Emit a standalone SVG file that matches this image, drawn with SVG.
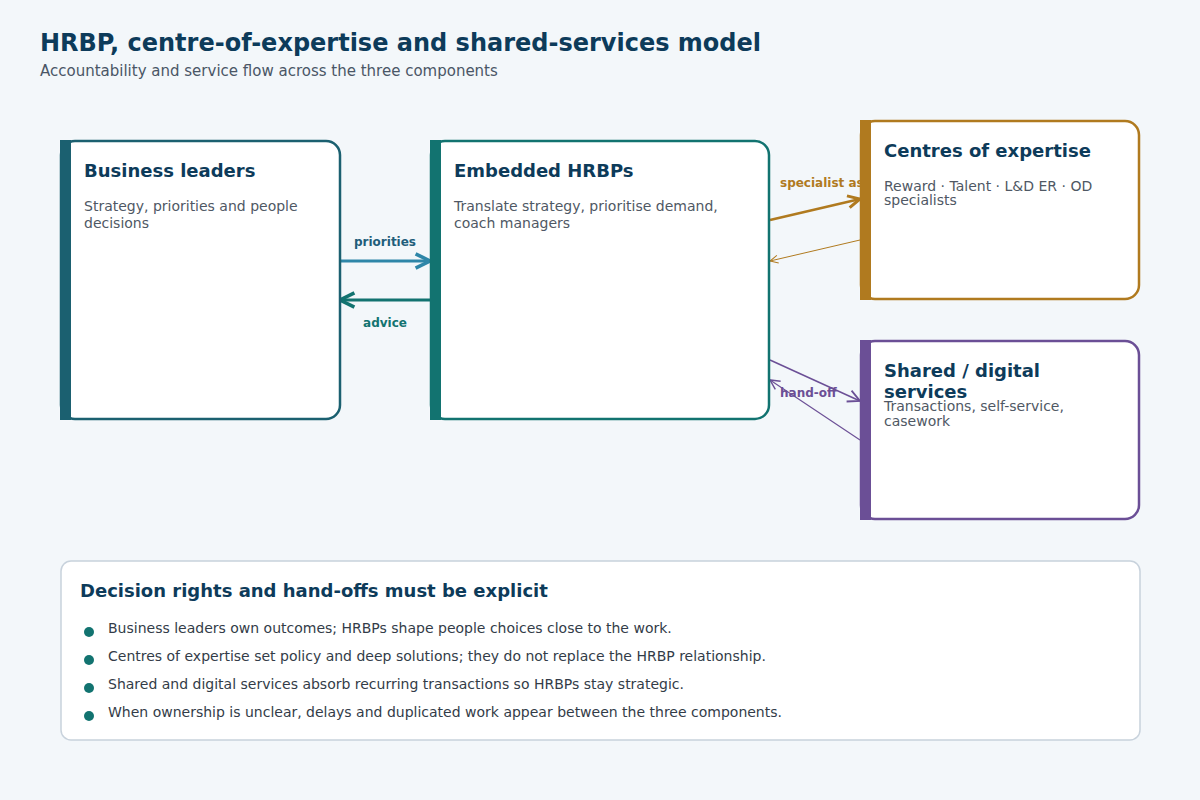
<svg xmlns="http://www.w3.org/2000/svg" width="1200" height="800" viewBox="0 0 1200 800">
<style>
text{font-family:"DejaVu Sans",sans-serif}
.t{font-size:24px;font-weight:bold;fill:#0d3b5a}
.st{font-size:15px;fill:#4a5666}
.h{font-size:18px;font-weight:bold;fill:#0d3b5a}
.d{font-size:14px;fill:#4f5864}
.l{font-size:12px;font-weight:bold}
.b{font-size:14px;fill:#333c48}
</style>
<defs>
<marker id="aB" viewBox="0 0 10 10" refX="9" refY="5" markerWidth="6" markerHeight="6" orient="auto"><path d="M1,1 L9,5 L1,9" fill="none" stroke="#2e86a8" stroke-width="2"/></marker>
<marker id="aT" viewBox="0 0 10 10" refX="9" refY="5" markerWidth="6" markerHeight="6" orient="auto"><path d="M1,1 L9,5 L1,9" fill="none" stroke="#127370" stroke-width="2"/></marker>
<marker id="aG" viewBox="0 0 10 10" refX="9" refY="5" markerWidth="6" markerHeight="6" orient="auto"><path d="M1,1 L9,5 L1,9" fill="none" stroke="#b07a1f" stroke-width="2"/></marker>
<marker id="aG2" viewBox="0 0 10 10" refX="9" refY="5" markerWidth="10" markerHeight="10" orient="auto"><path d="M1,1 L9,5 L1,9" fill="none" stroke="#b07a1f" stroke-width="1"/></marker>
<marker id="aP" viewBox="0 0 10 10" refX="9" refY="5" markerWidth="10" markerHeight="10" orient="auto"><path d="M1,1 L9,5 L1,9" fill="none" stroke="#6b4f96" stroke-width="1.2"/></marker>
</defs>
<rect width="1200" height="800" fill="#f3f7fa"/>
<text x="40" y="51" class="t">HRBP, centre-of-expertise and shared-services model</text>
<text x="40" y="76" class="st">Accountability and service flow across the three components</text>
<g id="connectors">
<line x1="340" y1="261" x2="430" y2="261" stroke="#2e86a8" stroke-width="3" marker-end="url(#aB)"/>
<text x="385" y="246" text-anchor="middle" class="l" fill="#1f5e7a">priorities</text>
<line x1="430" y1="300" x2="340" y2="300" stroke="#127370" stroke-width="3" marker-end="url(#aT)"/>
<text x="385" y="327" text-anchor="middle" class="l" fill="#127370">advice</text>
<line x1="770" y1="220" x2="860" y2="199" stroke="#b07a1f" stroke-width="2.5" marker-end="url(#aG)"/>
<line x1="860" y1="240" x2="770" y2="261" stroke="#b07a1f" stroke-width="1" marker-end="url(#aG2)"/>
<text x="780" y="187" class="l" fill="#b07a1f">specialist asks</text>
<line x1="770" y1="360" x2="860" y2="401" stroke="#6b4f96" stroke-width="1.5" marker-end="url(#aP)"/>
<line x1="860" y1="440" x2="770" y2="380" stroke="#6b4f96" stroke-width="1.2" marker-end="url(#aP)"/>
<text x="780" y="397" class="l" fill="#6b4f96">hand-off</text>
</g>
<g id="business-leaders">
<rect x="61" y="141" width="279" height="278" rx="14" fill="#fff" stroke="#1b6070" stroke-width="2.5"/>
<rect x="60" y="140" width="11" height="280" fill="#1b6070"/>
<text x="84" y="177" class="h">Business leaders</text>
<text x="84" y="211" class="d">Strategy, priorities and people</text>
<text x="84" y="228" class="d">decisions</text>
</g>
<g id="embedded-hrbps">
<rect x="431" y="141" width="338" height="278" rx="14" fill="#fff" stroke="#127370" stroke-width="2.5"/>
<rect x="430" y="140" width="11" height="280" fill="#127370"/>
<text x="454" y="177" class="h">Embedded HRBPs</text>
<text x="454" y="211" class="d">Translate strategy, prioritise demand,</text>
<text x="454" y="228" class="d">coach managers</text>
</g>
<g id="centres-of-expertise">
<rect x="861" y="121" width="278" height="178" rx="14" fill="#fff" stroke="#b07a1f" stroke-width="2.5"/>
<rect x="860" y="120" width="11" height="180" fill="#b07a1f"/>
<text x="884" y="157" class="h">Centres of expertise</text>
<text x="884" y="191" class="d">Reward · Talent · L&amp;D ER · OD</text>
<text x="884" y="205" class="d">specialists</text>
</g>
<g id="shared-services">
<rect x="861" y="341" width="278" height="178" rx="14" fill="#fff" stroke="#6b4f96" stroke-width="2.5"/>
<rect x="860" y="340" width="11" height="180" fill="#6b4f96"/>
<text x="884" y="377" class="h">Shared / digital</text>
<text x="884" y="398" class="h">services</text>
<text x="884" y="411" class="d">Transactions, self-service,</text>
<text x="884" y="426" class="d">casework</text>
</g>
<g id="summary">
<rect x="61" y="561" width="1079" height="179" rx="10" fill="#fff" stroke="#c8d2dc" stroke-width="1.5"/>
<text x="80" y="597" class="h">Decision rights and hand-offs must be explicit</text>
<g fill="#127370"><circle cx="89" cy="632" r="5"/><circle cx="89" cy="660" r="5"/><circle cx="89" cy="688" r="5"/><circle cx="89" cy="716" r="5"/></g>
<text x="108" y="633" class="b">Business leaders own outcomes; HRBPs shape people choices close to the work.</text>
<text x="108" y="661" class="b">Centres of expertise set policy and deep solutions; they do not replace the HRBP relationship.</text>
<text x="108" y="689" class="b">Shared and digital services absorb recurring transactions so HRBPs stay strategic.</text>
<text x="108" y="717" class="b">When ownership is unclear, delays and duplicated work appear between the three components.</text>
</g>
</svg>
